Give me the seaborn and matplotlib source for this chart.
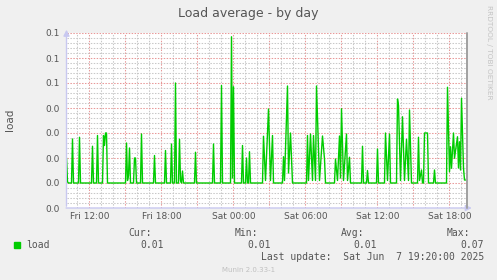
import matplotlib
matplotlib.use("Agg")
import matplotlib.pyplot as plt
import matplotlib.dates as mdates
from matplotlib.patches import Rectangle
import numpy as np
import pandas as pd
import seaborn as sns

# ---------------- data ----------------
start_time = "2025-06-06 10:00"          # Fri 10:00, slot 0
slot_minutes = 5                          # one sample every 5 minutes
x_start_slot, x_end_slot = 1, 401         # visible window: Fri 10:05 .. Sat 19:25

sample_slot = [
    1, 2, 3,
    6, 7, 8,
    13, 14, 15,
    26, 27, 28,
    31, 32, 33,
    37, 38, 39, 40, 41, 42,
    60, 61, 62, 63, 64, 65,
    68, 69, 70, 71,
    75, 76, 77,
    88, 89, 90,
    99, 100, 101,
    105, 106, 107,
    109, 110, 111,
    113, 114, 115, 116, 117, 118,
    129, 130, 131,
    147, 148, 149,
    155, 156, 157,
    165, 166, 167, 168, 169,
    176, 177, 178, 180, 181, 182, 183, 184, 185,
    197, 198, 200, 203, 205, 207, 208,
    217, 218, 219, 222, 223, 225, 227,
    241, 242, 243, 245, 247, 248, 250, 251, 254, 257, 259, 260,
    269, 270, 272, 274, 275, 276, 278, 281, 282, 284, 285,
    296, 297, 298,
    301, 302, 303,
    311, 312, 313,
    319, 320, 322, 324, 325,
    331, 332, 333, 335, 337, 339, 341, 343, 344, 346,
    352, 353, 354, 356, 357,
    358, 359, 362, 363,
    368, 369, 370,
    381, 382, 384, 385, 386, 388, 389, 392, 393, 394, 395, 396, 397, 398, 399, 400,
]
load = [
    0.020, 0.0105, 0.010,
    0.010, 0.0276, 0.010,
    0.010, 0.0283, 0.010,
    0.010, 0.0247, 0.010,
    0.010, 0.029, 0.010,
    0.010, 0.029, 0.025, 0.030, 0.030, 0.010,
    0.010, 0.026, 0.011, 0.013, 0.024, 0.010,
    0.010, 0.020, 0.020, 0.010,
    0.010, 0.0296, 0.010,
    0.010, 0.021, 0.010,
    0.010, 0.023, 0.010,
    0.010, 0.0256, 0.010,
    0.010, 0.050, 0.010,
    0.010, 0.0275, 0.011, 0.010, 0.0148, 0.010,
    0.010, 0.0223, 0.010,
    0.010, 0.0256, 0.010,
    0.010, 0.049, 0.010,
    0.010, 0.0685, 0.012, 0.0485, 0.010,
    0.010, 0.025, 0.010, 0.010, 0.020, 0.010, 0.010, 0.0225, 0.010,
    0.010, 0.0287, 0.011, 0.0396, 0.011, 0.029, 0.010,
    0.010, 0.0205, 0.011, 0.0488, 0.014, 0.030, 0.010,
    0.010, 0.029, 0.011, 0.0296, 0.011, 0.029, 0.011, 0.0488, 0.011, 0.0288, 0.0196, 0.010,
    0.010, 0.0196, 0.011, 0.0288, 0.012, 0.0397, 0.011, 0.0296, 0.011, 0.0203, 0.010,
    0.010, 0.0247, 0.010,
    0.010, 0.015, 0.010,
    0.010, 0.0236, 0.010,
    0.010, 0.030, 0.011, 0.0296, 0.010,
    0.010, 0.0436, 0.041, 0.011, 0.0365, 0.011, 0.0275, 0.011, 0.0392, 0.010,
    0.010, 0.0283, 0.011, 0.0152, 0.010,
    0.010, 0.030, 0.030, 0.010,
    0.010, 0.0152, 0.010,
    0.010, 0.0483, 0.0145, 0.0245, 0.0159, 0.030, 0.0199, 0.0285, 0.016, 0.0265,
    0.0152, 0.0439, 0.0292, 0.0159, 0.0112, 0.0112,
]

ytick_values = [0.00, 0.01, 0.02, 0.03, 0.04, 0.05, 0.06, 0.07]
ytick_labels = ["0.0", "0.0", "0.0", "0.0", "0.0", "0.1", "0.1", "0.1"]
xtick_times = ["2025-06-06 12:00", "2025-06-06 15:00", "2025-06-06 18:00", "2025-06-06 21:00",
               "2025-06-07 00:00", "2025-06-07 03:00", "2025-06-07 06:00", "2025-06-07 09:00",
               "2025-06-07 12:00", "2025-06-07 15:00", "2025-06-07 18:00"]
xtick_labels = ["Fri 12:00", "", "Fri 18:00", "", "Sat 00:00", "", "Sat 06:00", "",
                "Sat 12:00", "", "Sat 18:00"]

title = "Load average - by day"
ylabel = "load"
series_name = "load"
legend_heads = ["Cur:", "Min:", "Avg:", "Max:"]
legend_vals = ["0.01", "0.01", "0.01", "0.07"]
last_update = "Last update:  Sat Jun  7 19:20:00 2025"
footer = "Munin 2.0.33-1"
side_text = "RRDTOOL / TOBI OETIKER"

# ---------------- styling ----------------
sns.set_style("white")
plt.rcParams["font.family"] = ["DejaVu Sans"]

BG = "#f0f0f0"
TXT = "#555555"
GREEN = "#00cc00"
MAJ = "#e89898"
MIN = "#c8c8c8"
AXC = "#c8c8f0"

W, H = 497, 280
fig = plt.figure(figsize=(W / 100, H / 100), dpi=100, facecolor=BG)
L, R, T, B = 66.5, 466.5, 33.0, 208.0
ax = fig.add_axes([L / W, (H - B) / H, (R - L) / W, (B - T) / H])
ax.set_facecolor("white")

t0 = pd.Timestamp(start_time)
df = pd.DataFrame({
    "time": [t0 + pd.Timedelta(minutes=slot_minutes * s) for s in sample_slot],
    "load": load,
})
sns.lineplot(data=df, x="time", y="load", ax=ax, color=GREEN, linewidth=1.0,
             zorder=5, legend=False)

ax.set_xlim(t0 + pd.Timedelta(minutes=slot_minutes * x_start_slot),
            t0 + pd.Timedelta(minutes=slot_minutes * x_end_slot))
ax.set_ylim(ytick_values[0], ytick_values[-1])

ax.set_xticks(pd.to_datetime(xtick_times))
ax.set_xticklabels(xtick_labels)
ax.xaxis.set_minor_locator(mdates.HourLocator())
ax.set_yticks(ytick_values)
ax.set_yticklabels(ytick_labels)
ax.yaxis.set_minor_locator(matplotlib.ticker.MultipleLocator(0.002))

ax.grid(which="minor", color=MIN, linestyle=(0, (1.4, 1.4)), linewidth=0.75)
ax.grid(which="major", color=MAJ, linestyle=(0, (1.4, 1.4)), linewidth=0.75)
ax.set_axisbelow(True)
ax.tick_params(which="both", length=0)
ax.tick_params(axis="x", labelsize=6.5, colors=TXT, pad=3)
ax.tick_params(axis="y", labelsize=6.5, colors=TXT, pad=5)
ax.set_xlabel("")
ax.set_ylabel("")
for s in ax.spines.values():
    s.set_visible(False)

# right-edge marker
ax.plot([1, 1], [0, 1], transform=ax.transAxes, color="#a0a0a0", lw=1.4,
        clip_on=False, zorder=6)
# axis arrows
ax.annotate("", xy=(0, 1 + 6 / 175), xytext=(0, -0.005), xycoords="axes fraction",
            arrowprops=dict(arrowstyle="-|>,head_length=0.35,head_width=0.18",
                            color=AXC, lw=1), annotation_clip=False)
ax.annotate("", xy=(1 + 8 / 400, 0), xytext=(-0.008, 0), xycoords="axes fraction",
            arrowprops=dict(arrowstyle="-|>,head_length=0.35,head_width=0.18",
                            color=AXC, lw=1), annotation_clip=False)

# title, labels
fig.text(248 / W, 1 - 14 / H, title, ha="center", va="center", fontsize=9, color=TXT)
fig.text(10 / W, 1 - 120 / H, ylabel, ha="center", va="center", rotation=90,
         fontsize=7.5, color=TXT)
fig.text(488.5 / W, 1 - 5 / H, side_text, ha="center", va="top", rotation=270,
         fontsize=5.3, color="#c4c4c4")

# legend block
mono = "DejaVu Sans Mono"
for hx, vx, h, v in zip([128, 235, 341, 447], [140, 247, 353, 460], legend_heads, legend_vals):
    fig.text(hx / W, 1 - 233.5 / H, h, ha="left", va="center", fontsize=7,
             family=mono, color=TXT)
    fig.text(vx / W, 1 - 245.5 / H, v, ha="left", va="center", fontsize=7,
             family=mono, color=TXT)
fig.patches.append(Rectangle((14 / W, 1 - 247.5 / H), 6 / W, 6 / H,
                             transform=fig.transFigure, color=GREEN))
fig.text(26 / W, 1 - 245.5 / H, series_name, ha="left", va="center", fontsize=7,
         family=mono, color=TXT)
fig.text(261 / W, 1 - 257.5 / H, last_update, ha="left", va="center", fontsize=7,
         family=mono, color=TXT)
fig.text(249 / W, 1 - 269.5 / H, footer, ha="center", va="center", fontsize=5,
         color="#c0c0c0")

fig.savefig("out.png", dpi=100, facecolor=BG)
